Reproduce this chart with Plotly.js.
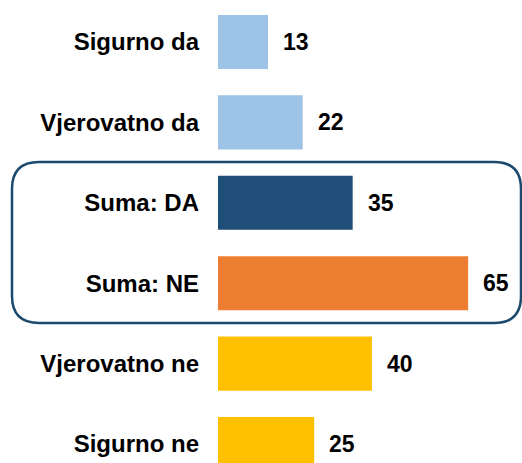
<!DOCTYPE html>
<html>
<head>
<meta charset="utf-8">
<script src="https://cdn.plot.ly/plotly-3.0.1.min.js"></script>
<style>html,body{margin:0;padding:0;background:#fff;}#chart{width:522px;height:463px;}</style>
</head>
<body>
<div id="chart"></div>
<script>
const categories = ['Sigurno da', 'Vjerovatno da', 'Suma: DA', 'Suma: NE', 'Vjerovatno ne', 'Sigurno ne'];
const values = [13, 22, 35, 65, 40, 25];
const barColors = ['#9DC3E6', '#9DC3E6', '#1F4E79', '#ED7D31', '#FFC000', '#FFC000'];

const W = 522, H = 463, ML = 218;
const FONT = 'Liberation Sans, Arial, sans-serif';

// helper: pixel -> paper coordinates
const px = x => (x - ML) / (W - ML);
const py = y => 1 - y / H;

function roundedRectPath(x0, y0, x1, y1, r) {
  const p = [
    ['M', px(x0 + r), py(y0)],
    ['L', px(x1 - r), py(y0)],
    ['Q', px(x1), py(y0), px(x1), py(y0 + r)],
    ['L', px(x1), py(y1 - r)],
    ['Q', px(x1), py(y1), px(x1 - r), py(y1)],
    ['L', px(x0 + r), py(y1)],
    ['Q', px(x0), py(y1), px(x0), py(y1 - r)],
    ['L', px(x0), py(y0 + r)],
    ['Q', px(x0), py(y0), px(x0 + r), py(y0)],
    ['Z']
  ];
  return p.map(s => s[0] + (s.length > 1 ? ' ' + s.slice(1).join(',') : '')).join(' ');
}

const trace = {
  type: 'bar',
  orientation: 'h',
  y: categories,
  x: values,
  width: 0.672,
  marker: { color: barColors, line: { width: 0 } },
  hoverinfo: 'none'
};

const annotations = categories.map((c, i) => ({
  x: values[i], y: c, xref: 'x', yref: 'y',
  text: String(values[i]),
  showarrow: false,
  xanchor: 'left',
  xshift: 13,
  font: { family: FONT, size: 23, color: '#000', weight: 'bold' }
}));

const layout = {
  width: W, height: H,
  margin: { l: ML, r: 0, t: 0, b: 0, pad: 0 },
  paper_bgcolor: '#fff', plot_bgcolor: '#fff',
  showlegend: false,
  xaxis: { range: [0, 79], visible: false, fixedrange: true },
  yaxis: {
    type: 'category',
    range: [5.236, -0.522],
    showgrid: false, zeroline: false, showline: false,
    ticks: '', ticklabelstandoff: 18,
    tickfont: { family: FONT, size: 24, color: '#000', weight: 'bold' },
    fixedrange: true
  },
  annotations: annotations,
  shapes: [{
    type: 'path', xref: 'paper', yref: 'paper',
    path: roundedRectPath(12, 162, 521, 323, 27),
    line: { color: '#1B4A6E', width: 2.5 },
    fillcolor: 'rgba(0,0,0,0)',
    layer: 'above'
  }]
};

Plotly.newPlot('chart', [trace], layout, { displayModeBar: false, staticPlot: true });
</script>
</body>
</html>
